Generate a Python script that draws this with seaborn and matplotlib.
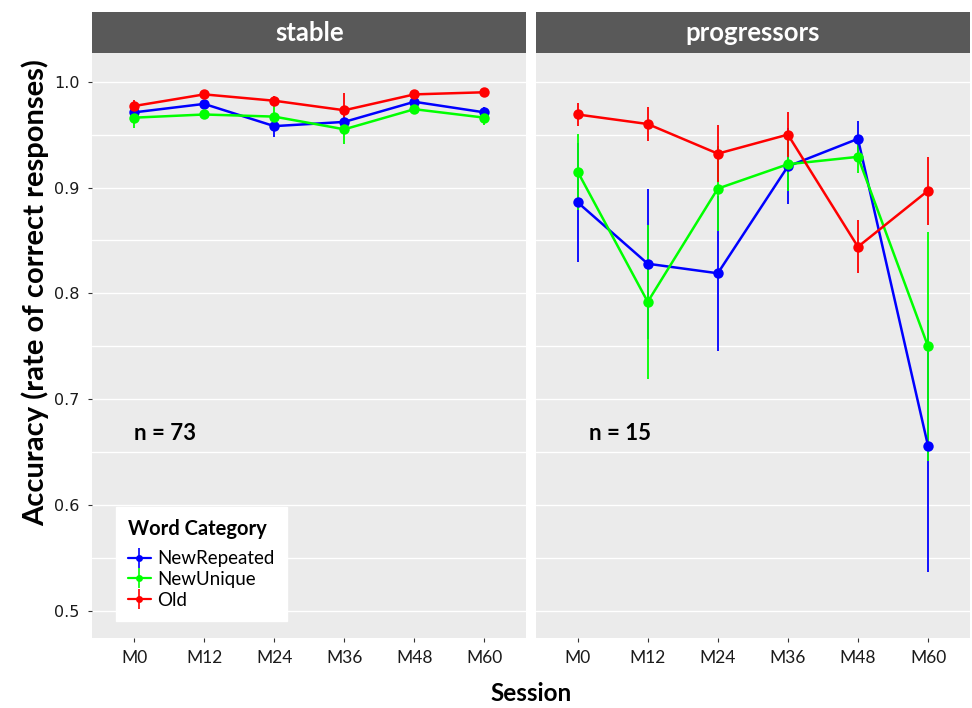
import matplotlib
matplotlib.use("Agg")
import matplotlib.pyplot as plt
import seaborn as sns
import pandas as pd
from matplotlib.lines import Line2D
from matplotlib.patches import Rectangle

# values
sessions = ["M0", "M12", "M24", "M36", "M48", "M60"]
categories = ["NewRepeated", "NewUnique", "Old"]
groups = ["stable", "progressors"]
group_n = [73, 15]

stable_newrep = [0.971, 0.979, 0.958, 0.962, 0.981, 0.971]
stable_newrep_err = [0.005, 0.004, 0.010, 0.006, 0.004, 0.005]
stable_newuni = [0.966, 0.969, 0.967, 0.955, 0.974, 0.966]
stable_newuni_err = [0.010, 0.004, 0.011, 0.014, 0.005, 0.007]
stable_old = [0.977, 0.988, 0.982, 0.973, 0.988, 0.990]
stable_old_err = [0.006, 0.003, 0.004, 0.016, 0.003, 0.003]

prog_newrep = [0.886, 0.828, 0.819, 0.920, 0.946, 0.656]
prog_newrep_err = [0.056, 0.071, 0.073, 0.036, 0.017, 0.119]
prog_newuni = [0.915, 0.792, 0.899, 0.922, 0.929, 0.750]
prog_newuni_err = [0.036, 0.073, 0.040, 0.025, 0.015, 0.108]
prog_old = [0.969, 0.960, 0.932, 0.950, 0.844, 0.897]
prog_old_err = [0.011, 0.016, 0.027, 0.021, 0.025, 0.032]

palette = {"NewRepeated": "#0000FF", "NewUnique": "#00FF00", "Old": "#FF0000"}

# build one long table
rows = []
series = {
    "stable": [(stable_newrep, stable_newrep_err), (stable_newuni, stable_newuni_err), (stable_old, stable_old_err)],
    "progressors": [(prog_newrep, prog_newrep_err), (prog_newuni, prog_newuni_err), (prog_old, prog_old_err)],
}
for g in groups:
    for cat, (vals, errs) in zip(categories, series[g]):
        for s, v, e in zip(sessions, vals, errs):
            rows.append({"group": g, "category": cat, "session": s, "acc": v, "err": e})
df = pd.DataFrame(rows)

sns.set_theme(style="darkgrid", rc={
    "axes.facecolor": "#EBEBEB",
    "grid.color": "white",
    "grid.linewidth": 1.0,
    "xtick.bottom": True,
    "ytick.left": True,
    "text.color": "black",
})
plt.rcParams["font.family"] = ["Lato", "DejaVu Sans"]

fig, axes = plt.subplots(1, 2, figsize=(9.72, 7.08), dpi=100, sharey=True)
fig.subplots_adjust(left=0.0947, right=0.998, top=0.925, bottom=0.099, wspace=0.021)

n_xpos = [0.44, 0.6]

for ax, g, n, nx in zip(axes, groups, group_n, n_xpos):
    sub = df[df["group"] == g]
    sns.lineplot(data=sub, x="session", y="acc", hue="category", hue_order=categories,
                 palette=palette, marker="o", markersize=7.5, markeredgewidth=0,
                 linewidth=1.8, sort=False, legend=False, ax=ax, zorder=3)
    for cat in categories:
        d = sub[sub["category"] == cat]
        ax.errorbar(d["session"], d["acc"], yerr=d["err"], fmt="none",
                    ecolor=palette[cat], elinewidth=1.3, capsize=0, zorder=2)

    ax.set_xlim(-0.6, 5.6)
    ax.set_ylim(0.4745, 1.027)
    ax.set_yticks([0.5, 0.6, 0.7, 0.8, 0.9, 1.0])
    ax.set_yticks([0.55, 0.65, 0.75, 0.85, 0.95], minor=True)
    ax.grid(axis="x", visible=False)
    ax.grid(axis="y", which="both", color="white", linewidth=1.0)
    ax.set_xlabel("")
    ax.set_ylabel("")
    ax.tick_params(axis="both", which="major", length=3, width=0.8, color="#333333",
                   labelcolor="#1a1a1a", pad=6)
    ax.tick_params(axis="x", labelsize=12.5)
    ax.tick_params(axis="y", which="minor", length=0)
    for lab in ax.get_yticklabels():
        lab.set_fontfamily("DejaVu Sans")
        lab.set_fontsize(11.5)
    for sp in ax.spines.values():
        sp.set_visible(False)

    # facet strip
    strip_h = 41 / 585
    ax.add_patch(Rectangle((0, 1.0), 1, strip_h, transform=ax.transAxes,
                           facecolor="#595959", edgecolor="none", clip_on=False))
    ax.text(0.5, 1.0 + strip_h / 2, g, transform=ax.transAxes, ha="center", va="center",
            color="white", fontsize=18.5, fontweight="bold")

    ax.text(nx, 0.668, f"n = {n}", ha="center", va="center", fontsize=16, fontweight="bold")

axes[1].tick_params(axis="y", length=0, labelleft=False)

handles = []
for cat in categories:
    c = palette[cat]
    h_line = Line2D([], [], color=c, lw=1.6, marker="o", markersize=5, markeredgewidth=0)
    h_bar = Line2D([], [], color=c, marker="|", markersize=15, markeredgewidth=1.2, ls="none")
    handles.append((h_line, h_bar))
leg = axes[0].legend(handles, categories, title="Word Category", loc="lower left",
                     bbox_to_anchor=(0.055, 0.029), borderaxespad=0, frameon=True,
                     fancybox=False, facecolor="white", edgecolor="white", framealpha=1,
                     fontsize=13.5, handlelength=1.2, handletextpad=0.35, labelspacing=0.2,
                     borderpad=0.65, alignment="left")
leg.get_title().set_fontweight("bold")
leg.get_title().set_fontsize(14.5)
leg._legend_box.sep = 8

fig.text(0.036, 0.587, "Accuracy (rate of correct responses)", rotation=90, ha="center",
         va="center", fontsize=21, fontweight="bold")
fig.text(0.546, 0.021, "Session", ha="center", va="center", fontsize=17.5, fontweight="bold")

fig.savefig("out.png", dpi=100, facecolor="white")
